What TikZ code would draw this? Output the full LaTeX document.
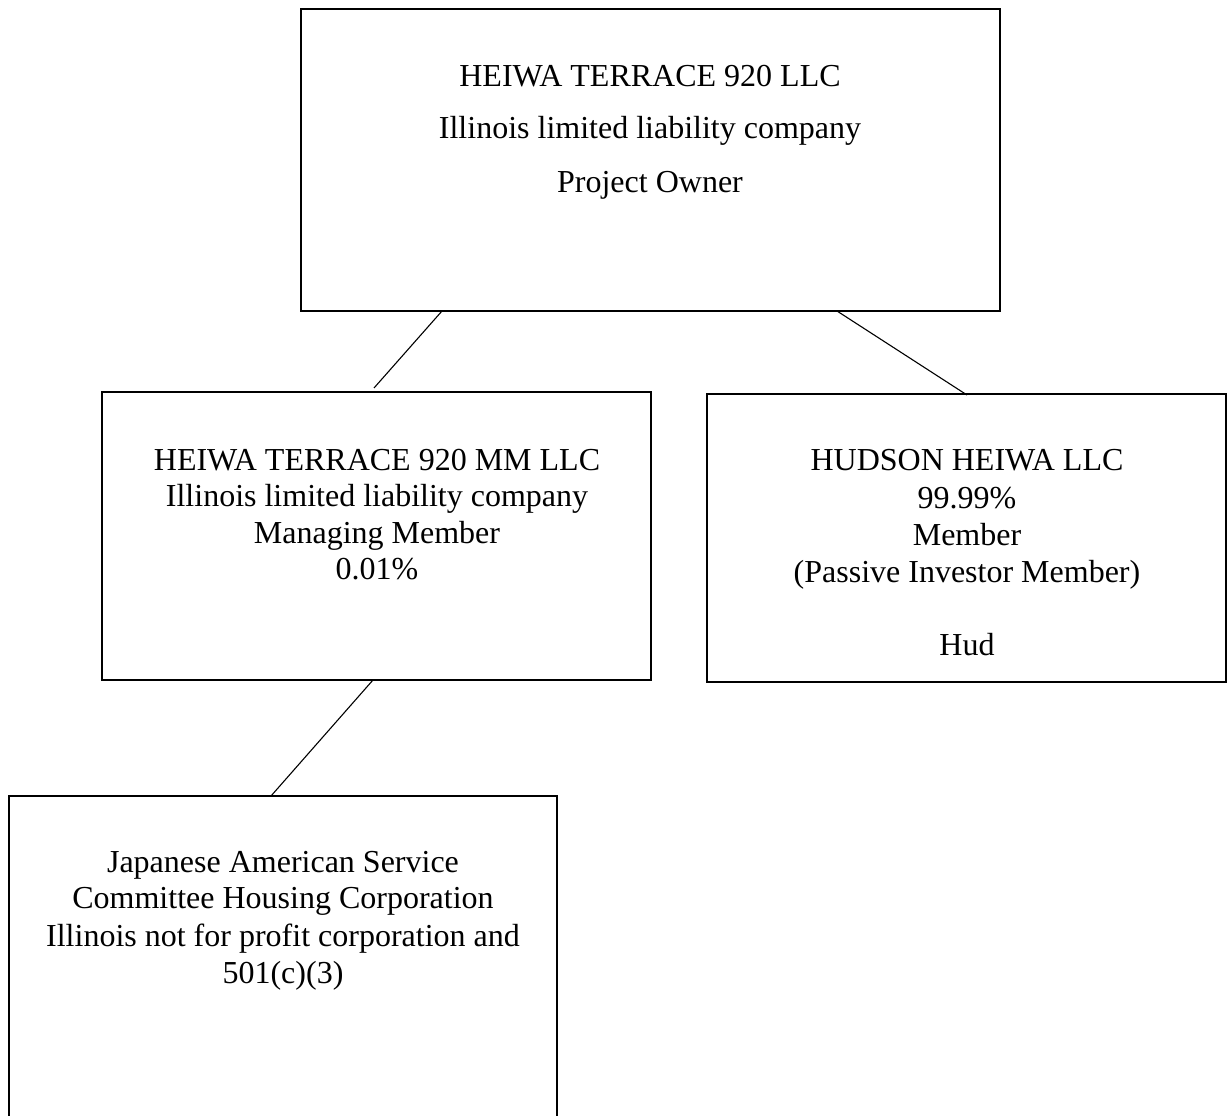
\documentclass[tikz,border=0pt]{standalone}
\usepackage{fontspec}
\setmainfont{Liberation Serif}
\usetikzlibrary{calc}
\begin{document}
\begin{tikzpicture}[x=1pt,y=-1pt,
  boxst/.style={draw,line width=1.3pt},
  linkst/.style={draw,line width=1.1pt},
  txt/.style={anchor=base,inner sep=0pt,font=\fontsize{32}{37}\selectfont}]
\useasboundingbox (0,0) rectangle (1227,1116);
\clip (0,0) rectangle (1227,1116);
% boxes
\draw[boxst] (301,9) rectangle (1000,311);
\coordinate (topbl) at (301,311);
\draw[boxst] (102,392) rectangle (651,680);
\coordinate (mmtl) at (102,392);
\coordinate (mmbl) at (102,680);
\draw[boxst] (707,394) rectangle (1226,682);
\coordinate (hhtl) at (707,394);
\draw[boxst] (9,796) rectangle (557,1130);
\coordinate (jtl) at (9,796);
% texts
\node[txt] (t1) at (650,86) {HEIWA TERRACE 920 LLC};
\node[txt] (t2) at (650,138) {Illinois limited liability company};
\node[txt] (t3) at (650,192) {Project Owner};
\node[txt] (m1) at (377,470) {HEIWA TERRACE 920 MM LLC};
\node[txt] (m2) at (377,506) {Illinois limited liability company};
\node[txt] (m3) at (377,543) {Managing Member};
\node[txt] (m4) at (377,579) {0.01\%};
\node[txt] (h1) at (967,470) {HUDSON HEIWA LLC};
\node[txt] (h2) at (967,508) {99.99\%};
\node[txt] (h3) at (967,545) {Member};
\node[txt] (h4) at (967,582) {(Passive Investor Member)};
\node[txt] (h5) at (967,655) {Hud};
\node[txt] (j1) at (283,872) {Japanese American Service};
\node[txt] (j2) at (283,908) {Committee Housing Corporation};
\node[txt] (j3) at (283,946) {Illinois not for profit corporation and};
\node[txt] (j4) at (283,983) {501(c)(3)};
% connectors
\draw[linkst] ($(topbl)+(141,0)$) -- ($(mmtl)+(272,-4)$);
\draw[linkst] ($(topbl)+(536,0)$) -- ($(hhtl)+(260,1)$);
\draw[linkst] ($(mmbl)+(271,0)$) -- ($(jtl)+(262,0)$);
\end{tikzpicture}
\end{document}
